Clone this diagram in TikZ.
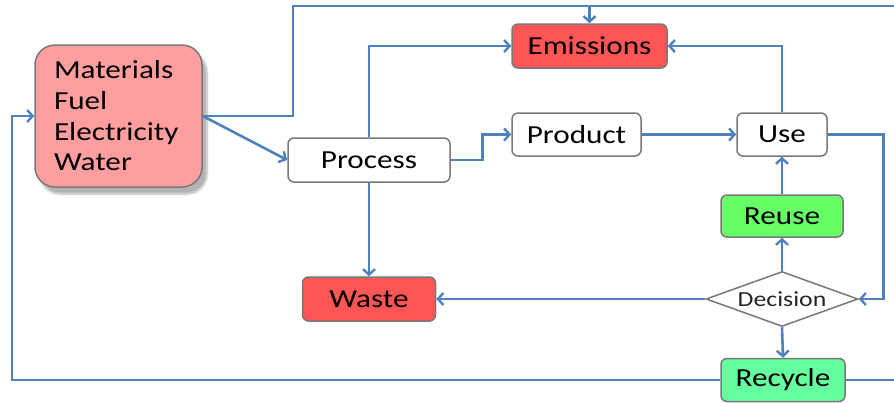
\documentclass[tikz,border=0pt]{standalone}
\usepackage{fontspec}
\setmainfont[FakeStretch=1.2]{Carlito}
\usetikzlibrary{arrows.meta,shapes.geometric,shadows.blur,calc}
\definecolor{lineblue}{RGB}{79,129,189}
\definecolor{bordergray}{RGB}{120,120,120}
\definecolor{matfill}{RGB}{255,158,158}
\definecolor{redfill}{RGB}{255,85,85}
\definecolor{greenfill}{RGB}{102,255,102}
\definecolor{mintfill}{RGB}{102,255,160}
\tikzset{
  box/.style={draw=bordergray, line width=1.5pt, rounded corners=6pt, inner sep=0pt,
    font=\fontsize{26}{30}\selectfont, text=black},
  conn/.style={draw=lineblue, line width=2.6pt},
  arr/.style={conn, -{Straight Barb[length=5.5pt,width=12pt,line width=2.4pt]}},
}
\begin{document}
\begin{tikzpicture}[x=1pt,y=-1pt]
\useasboundingbox (0,0) rectangle (894,402);
% nodes
\node[box, fill=matfill, rounded corners=20pt, minimum width=167pt, minimum height=142pt,
  align=left, text width=129pt, font=\fontsize{26}{30.7}\selectfont,
  blur shadow={shadow xshift=5pt, shadow yshift=-7pt, shadow blur steps=10, shadow opacity=30}]
  (mat) at (118.5,116) {Materials\\Fuel\\Electricity\\Water};
\node[box, fill=redfill, minimum width=155pt, minimum height=44pt] (emis) at (589.5,46) {Emissions};
\node[box, fill=white, minimum width=162pt, minimum height=44pt] (proc) at (369,160) {Process};
\node[box, fill=white, minimum width=129pt, minimum height=43pt] (prod) at (576.5,134.5) {Product};
\node[box, fill=white, minimum width=90pt, minimum height=43pt] (use) at (782,134.5) {Use};
\node[box, fill=greenfill, minimum width=122pt, minimum height=42pt] (reuse) at (782,216) {Reuse};
\node[draw=bordergray, line width=1.5pt, fill=white, diamond, aspect=2.76, inner sep=0pt,
  minimum width=152pt, minimum height=55pt, font=\fontsize{21.5}{24}\selectfont, text=black!85]
  (dec) at (782,299) {Decision};
\node[box, fill=redfill, minimum width=133pt, minimum height=44pt] (waste) at (369,299) {Waste};
\node[box, fill=mintfill, minimum width=124pt, minimum height=43pt] (rec) at (783,380) {Recycle};
% free-end coordinates
\coordinate (jtop) at (293,6);
\coordinate (topR) at (894,6);
\coordinate (jleft) at (12,380);
\coordinate (recR) at (894,380);
% connectors
\draw[conn] (mat.east) -| (jtop) -- (topR);
\draw[arr] (emis.north |- topR) -- (emis.north);
\draw[arr] (mat.east) -- (proc.west);
\draw[arr] (proc.north) |- (emis.west);
\draw[arr] (proc.east) -- ++(32,0) |- (prod.west);
\draw[arr] (prod.east) -- (use.west);
\draw[arr] (use.north) |- (emis.east);
\draw[arr] (use.east) -- ++(56,0) |- (dec.east);
\draw[arr] (dec.north) -- (reuse.south);
\draw[arr] (reuse.north) -- (use.south);
\draw[arr] (dec.west) -- (waste.east);
\draw[arr] (proc.south) -- (waste.north);
\draw[arr] (dec.south) -- (rec.north);
\draw[arr] (rec.west) -- (jleft) |- (mat.west);
\draw[conn] (rec.east) -- (recR);
\end{tikzpicture}
\end{document}
